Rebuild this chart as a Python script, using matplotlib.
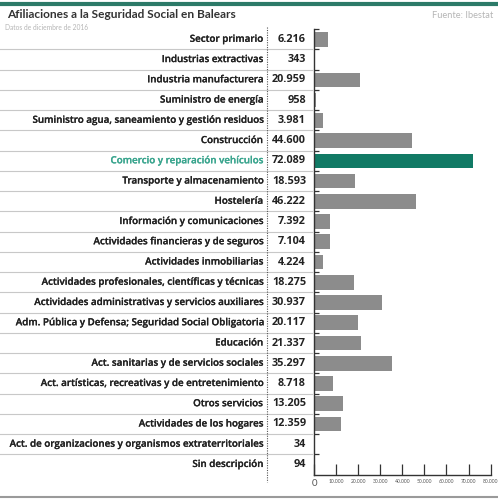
import matplotlib
matplotlib.use("Agg")
import matplotlib.pyplot as plt
from matplotlib.lines import Line2D
from matplotlib.transforms import blended_transform_factory
import matplotlib.patheffects as pe
import numpy as np

categories = [
    "Sector primario",
    "Industrias extractivas",
    "Industria manufacturera",
    "Suministro de energía",
    "Suministro agua, saneamiento y gestión residuos",
    "Construcción",
    "Comercio y reparación vehículos",
    "Transporte y almacenamiento",
    "Hostelería",
    "Información y comunicaciones",
    "Actividades financieras y de seguros",
    "Actividades inmobiliarias",
    "Actividades profesionales, científicas y técnicas",
    "Actividades administrativas y servicios auxiliares",
    "Adm. Pública y Defensa; Seguridad Social Obligatoria",
    "Educación",
    "Act. sanitarias y de servicios sociales",
    "Act. artísticas, recreativas y de entretenimiento",
    "Otros servicios",
    "Actividades de los hogares",
    "Act. de organizaciones y organismos extraterritoriales",
    "Sin descripción",
]
values = [6216, 343, 20959, 958, 3981, 44600, 72089, 18593, 46222, 7392, 7104,
          4224, 18275, 30937, 20117, 21337, 35297, 8718, 13205, 12359, 34, 94]
highlight = "Comercio y reparación vehículos"
xticks = [0, 10000, 20000, 30000, 40000, 50000, 60000, 70000, 80000]
xtick_labels = ["0", "10.000", "20.000", "30.000", "40.000", "50.000", "60.000", "70.000", "80.000"]

W, H = 498, 500
FONT = "Lato"
LFONT = "Open Sans"
fig = plt.figure(figsize=(W / 100, H / 100), dpi=100)
fig.patch.set_facecolor("white")

top_px, bot_px = 29.2, 474.6
left_px, right_px = 314.0, 490.6
ax = fig.add_axes([left_px / W, 1 - bot_px / H, (right_px - left_px) / W, (bot_px - top_px) / H])

n = len(categories)
bar_col = "#8c8c8c"
hi_col = "#117a65"
colors = [hi_col if c == highlight else bar_col for c in categories]
ax.barh(np.arange(n), values, height=0.72, color=colors, zorder=2)
ax.set_ylim(n - 0.5, -0.5)
ax.set_xlim(0, 80000)

for s in ["top", "right"]:
    ax.spines[s].set_visible(False)
for s in ["left", "bottom"]:
    ax.spines[s].set_color("#333333")
    ax.spines[s].set_linewidth(1.0)

ax.set_yticks(np.arange(-0.5, n - 1, 1.0))
ax.set_yticklabels([])
ax.tick_params(axis="y", direction="in", length=3.5, width=0.9, color="#333333")

ax.set_xticks(xticks)
ax.set_xticklabels(xtick_labels)
ax.tick_params(axis="x", direction="in", length=8, width=0.9, color="#333333", pad=3,
               labelsize=3.6, labelcolor="#555555")
for lab in ax.get_xticklabels():
    lab.set_fontfamily(FONT)
ax.get_xticklabels()[0].set_fontsize(7)

tr = blended_transform_factory(fig.transFigure, ax.transData)
for i, (c, v) in enumerate(zip(categories, values)):
    col = "#3aa58e" if c == highlight else "#222222"
    ax.text(263 / W, i, c, transform=tr, ha="right", va="center", fontsize=7.05,
            fontfamily=LFONT, fontweight="semibold", color=col, clip_on=False,
            path_effects=[pe.withStroke(linewidth=0.15, foreground=col)])
    ax.text(306 / W, i, f"{v:,}".replace(",", "."), transform=tr, ha="right", va="center",
            fontsize=7.8, fontfamily=LFONT, fontweight="bold", color="#222222", clip_on=False)

for i in range(n - 1):
    ax.add_line(Line2D([0, 312 / W], [i + 0.5, i + 0.5], transform=tr, color="#c8c8c8",
                       lw=0.8, clip_on=False, zorder=1))

fig.add_artist(Line2D([267 / W, 267 / W], [1 - 27 / H, 1 - 482 / H], transform=fig.transFigure,
                      color="#555555", lw=0.8, linestyle=(0, (1, 1.2))))
fig.add_artist(Line2D([0, 1], [1 - 3.5 / H, 1 - 3.5 / H], transform=fig.transFigure,
                      color="#2c7a68", lw=3))
fig.add_artist(Line2D([0, 1], [1 - 497 / H, 1 - 497 / H], transform=fig.transFigure,
                      color="#9a9a9a", lw=1.5))

fig.text(7 / W, 1 - 15 / H, "Afiliaciones a la Seguridad Social en Balears", fontsize=8.6,
         fontfamily=FONT, fontweight="bold", color="#333333", va="center", ha="left")
fig.text(5 / W, 1 - 28 / H, "Datos de diciembre de 2016", fontsize=4.8, fontfamily=FONT,
         color="#b5b5b5", va="center", ha="left")
fig.text(493 / W, 1 - 15 / H, "Fuente: Ibestat", fontsize=6.7, fontfamily=FONT,
         color="#b5b5b5", va="center", ha="right")

fig.savefig("out.png", dpi=100)
